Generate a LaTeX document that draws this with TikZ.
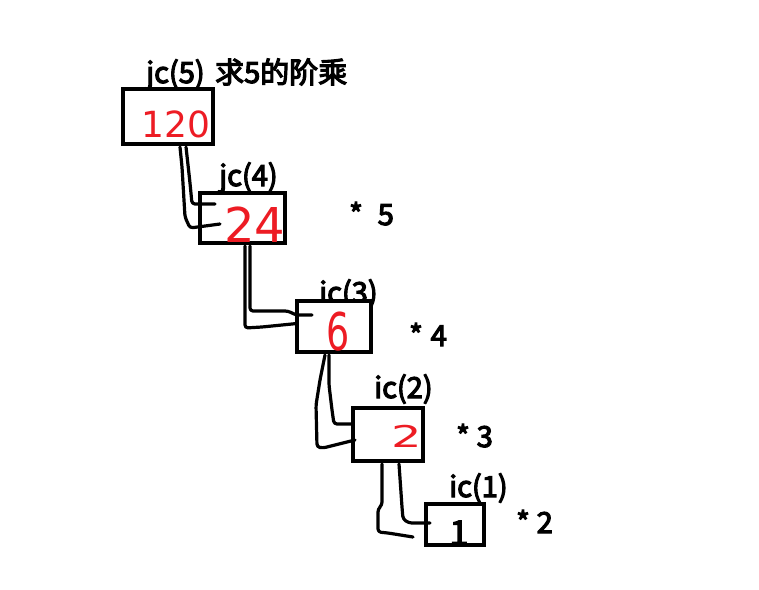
\documentclass[tikz,border=0pt]{standalone}
\usepackage{fontspec}
\setmainfont{DejaVu Sans}
\newfontfamily\cjk{Noto Sans CJK SC}[FakeBold=4]
\newfontfamily\handfont{DejaVu Sans}
\usetikzlibrary{calc}
\definecolor{pred}{RGB}{237,28,36}
\newcommand\lblfont{\cjk\fontsize{29}{33}\selectfont}
\begin{document}
\begin{tikzpicture}[x=1pt,y=-1pt,
  box/.style={draw,line width=3.5pt,fill=white,inner sep=0pt,outer sep=0pt},
  lbl/.style={anchor=base west,inner sep=0pt,font=\lblfont},
  redtext/.style={anchor=base,inner sep=0pt,text=pred},
  wire/.style={line width=3.2pt,line cap=round,line join=round,rounded corners=3pt}]
\fill[white] (0,0) rectangle (759,589);
\useasboundingbox (0,0) rectangle (759,589);
% labels
\node[lbl] (l1) at (146,83) {jc(5)\hspace{4pt} 求5的阶乘};
\node[lbl] (l2) at (219,186) {jc(4)};
\node[lbl] (l3) at (319,303) {ic(3)};
\node[lbl] (l4) at (374,398) {ic(2)};
\node[lbl] (l5) at (449,497) {ic(1)};
% multipliers
\node[lbl] (m5) at (349,225) {*\hspace{15pt}5};
\node[lbl] (m4) at (409,346) {*\hspace{8pt}4};
\node[lbl] (m3) at (456,447) {*\hspace{7pt}3};
\node[lbl] (m2) at (516,533) {*\hspace{7pt}2};
% boxes
\node[box,minimum width=90pt,minimum height=55pt] (b1) at (168,116.5) {};
\node[box,minimum width=85pt,minimum height=50pt] (b2) at (242.5,218) {};
\node[box,minimum width=74pt,minimum height=51pt] (b3) at (334,326.5) {};
\node[box,minimum width=70pt,minimum height=53pt] (b4) at (388,434.5) {};
\node[box,minimum width=58pt,minimum height=41pt] (b5) at (455,524.5) {};
% values
\node[redtext,font=\handfont\fontsize{36}{40}\selectfont] (v1) at (176,137) {120};
\node[redtext,font=\handfont\fontsize{48}{50}\selectfont] (v2) at (255,242) {24};
\node[redtext,font=\handfont\fontsize{52}{54}\selectfont,xscale=0.7] (v3) at (338,350) {6};
\node[redtext,font=\handfont\fontsize{30}{32}\selectfont,xscale=1.6] (v4) at (407,447) {2};
\node[anchor=base,inner sep=0pt,font=\cjk\fontsize{34}{36}\selectfont] (v5) at (459,545) {1};
% connectors
\draw[wire] ($(b1.south west)+(57,3)$) -- (182,167) -- (185,217) -- (190,228) -- ($(b2.west)+(20,6)$);
\draw[wire] ($(b1.south west)+(63,3)$) -- (190,183) -- (192,204) -- ($(b2.west)+(15,-14)$);
\draw[wire] ($(b2.south west)+(45,3)$) -- (245,328) -- (262,327) -- ($(b3.west)+(0,-3)$);
\draw[wire] ($(b2.south west)+(50,3)$) -- (250,311) -- (288,311) -- (296,315) -- ($(b3.west)+(15,-11.5)$);
\draw[wire] ($(b3.south west)+(28,3)$) -- (320,380) -- (316,405) -- (317,447) -- (323,448) -- ($(b4.west)+(2,5.5)$);
\draw[wire] ($(b3.south west)+(32,3)$) -- (329,385) -- (332,410) -- (334,424) -- ($(b4.west)+(-1,-10.5)$);
\coordinate (e4) at (413,537);
\draw[wire] ($(b4.south west)+(29,3)$) -- (382,505) -- (378,509) -- (378,532) -- (388,533) -- (e4);
\draw[wire] ($(b4.south west)+(46,3)$) -- (402,507) -- (403,519) -- (409,523) -- ($(b5.west)+(4,-1.5)$);
\end{tikzpicture}
\end{document}
